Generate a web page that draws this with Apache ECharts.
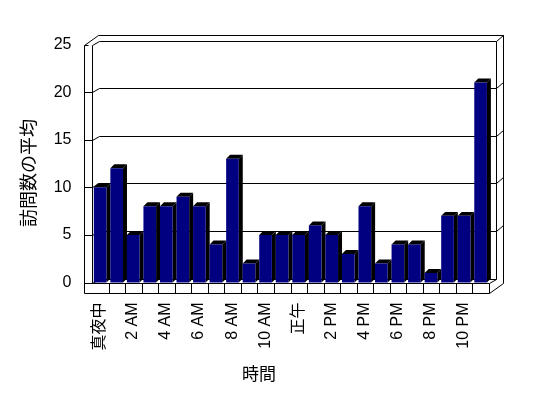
<!DOCTYPE html>
<html><head><meta charset="utf-8">
<script src="https://cdn.jsdelivr.net/npm/echarts@6/dist/echarts.min.js"></script>
<style>html,body{margin:0;padding:0;background:#fff}#c{width:548px;height:398px}</style>
</head><body><div id="c"></div>
<script>
const categories = ['真夜中','1 AM','2 AM','3 AM','4 AM','5 AM','6 AM','7 AM','8 AM','9 AM','10 AM','11 AM','正午','1 PM','2 PM','3 PM','4 PM','5 PM','6 PM','7 PM','8 PM','9 PM','10 PM','11 PM'];
const visits = [10,12,5,8,8,9,8,4,13,2,5,5,5,6,5,3,8,2,4,4,1,7,7,21];
const yTicks = [0,5,10,15,20,25];
const xTitle = '時間';
const yTitle = '訪問数の平均';

const FONT = "'Liberation Sans', 'Noto Sans CJK JP', sans-serif";
const W = 548, H = 398;
const GRID = {left: 91.5, right: 59.5, top: 44.5, bottom: 115.5};
const D = [7, -4];   // depth to back-wall front face
const E = [14, -10]; // depth to back-wall rear face
const NAVY = '#000080';

const chart = echarts.init(document.getElementById('c'), null, {renderer: 'canvas'});

function renderBar(params, api) {
  const i = api.value(0), v = api.value(1);
  const top = api.coord([i, v]);
  const base = api.coord([i, 0]);
  const bw = api.size([1, 0])[0];
  const xl = top[0] - bw * 0.36;
  const w = bw * 0.765;
  const xr = xl + w;
  const d = bw * 0.24;
  const yt = top[1], yb = base[1];
  return {
    type: 'group',
    children: [
      {type: 'polygon', shape: {points: [[xr, yt], [xr + d, yt - d], [xr + d, yb - d], [xr, yb]]}, style: {fill: '#000'}},
      {type: 'polygon', shape: {points: [[xl, yt], [xl + d, yt - d], [xr + d, yt - d], [xr, yt]]}, style: {fill: '#000'}},
      {type: 'rect', shape: {x: xl, y: yt, width: w, height: yb - yt}, style: {fill: NAVY}}
    ]
  };
}

chart.setOption({
  animation: false,
  backgroundColor: '#fff',
  grid: {left: GRID.left, right: GRID.right, top: GRID.top, bottom: GRID.bottom},
  xAxis: {
    type: 'category', data: categories,
    axisLine: {show: false}, axisTick: {show: false},
    axisLabel: {interval: 1, rotate: 90, margin: 20, color: '#000', fontSize: 16, fontFamily: FONT}
  },
  yAxis: {
    type: 'value', min: yTicks[0], max: yTicks[yTicks.length - 1], interval: 5,
    axisLine: {show: false}, axisTick: {show: false}, splitLine: {show: false},
    axisLabel: {margin: 20, color: '#000', fontSize: 16, fontFamily: FONT}
  },
  series: [{
    type: 'custom', renderItem: renderBar, z: 10,
    encode: {x: 0, y: 1},
    data: visits.map((v, i) => [i, v])
  }]
});

// 3D frame (walls + floor)
const r = v => Math.round(v) + 0.5;
const IL = Math.round(GRID.left);
const FL = IL - 8;
const R = Math.round(W - GRID.right);
const yOf = v => Math.round(chart.convertToPixel({yAxisIndex: 0}, v));
const TOP = yOf(25), BASE = yOf(0);
const FB = BASE + 10;
const lines = [];
function L(pts) { lines.push({type: 'polyline', z: 1, shape: {points: pts.map(p => [r(p[0]), r(p[1])])}, style: {stroke: '#000', lineWidth: 1, fill: null}}); }

// left wall front face
L([[FL, TOP], [FL, FB], [R, FB]]);
L([[IL, TOP], [IL, BASE], [R, BASE], [R, FB]]);
// left wall top
L([[FL, TOP], [FL + E[0], TOP + E[1]]]);
L([[IL, TOP], [IL + D[0], TOP + D[1]]]);
// back wall top
L([[FL + E[0], TOP + E[1]], [R + E[0], TOP + E[1]], [R + E[0], FB + E[1]], [R, FB]]);
L([[IL + D[0], TOP + D[1]], [R + D[0], TOP + D[1]], [R + E[0], TOP + E[1]]]);
L([[R + D[0], TOP + D[1]], [R + D[0], BASE + D[1]]]);
// floor
L([[IL, BASE], [IL + D[0], BASE + D[1]], [R + D[0], BASE + D[1]]]);
L([[R, BASE], [R + D[0], BASE + D[1]]]);
// gridlines
yTicks.forEach(v => {
  const y = yOf(v);
  if (v === 25) { L([[FL, y], [FL + 4, y]]); return; }
  if (v === 0) { L([[FL, y], [IL, y]]); return; }
  L([[FL, y], [IL, y], [IL + D[0], y + D[1]], [R + D[0], y + D[1]], [R + E[0], y + E[1]]]);
});
// category ticks on floor front
const bw = (R - IL) / categories.length;
for (let k = 1; k < categories.length; k++) {
  const x = Math.round(IL + bw * k);
  L([[x, BASE], [x, FB]]);
}

lines.push({type: 'text', z: 5, x: 28, y: 173, rotation: Math.PI / 2,
  style: {text: yTitle, font: "18px 'Noto Sans CJK JP', sans-serif", fill: '#000', align: 'center', verticalAlign: 'middle'}});
lines.push({type: 'text', z: 5, x: 259, y: 374,
  style: {text: xTitle, font: "17px 'Noto Sans CJK JP', sans-serif", fill: '#000', align: 'center', verticalAlign: 'middle'}});

chart.setOption({graphic: lines});
</script>
</body></html>
